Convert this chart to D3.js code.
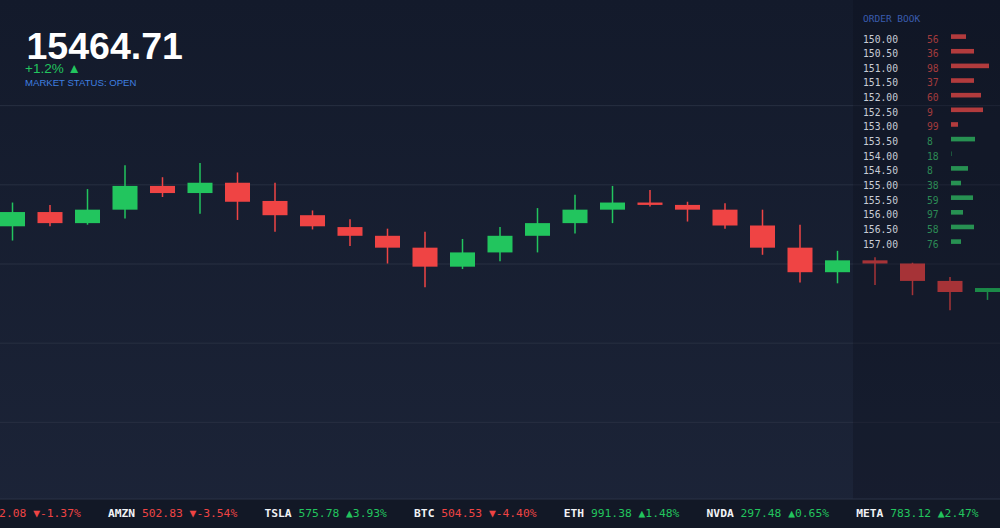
<!DOCTYPE html>
<html>
<head>
<meta charset="utf-8">
<script src="https://d3js.org/d3.v7.min.js"></script>
<style>
    body { margin: 0; background: #141b2c; overflow: hidden; }
</style>
</head>
<body>
<svg id="chart" width="1000" height="528"></svg>
<script>
// candle data
const opens  = [15447, 15465, 15451, 15468, 15498, 15489, 15502, 15479, 15461, 15446, 15435, 15420, 15396, 15414, 15435, 15451, 15468, 15477, 15474, 15468, 15448, 15420, 15389, 15404, 15400, 15378, 15364]
const highs  = [15477, 15474, 15494, 15524, 15509, 15527, 15515, 15502, 15467, 15456, 15444, 15440, 15431, 15446, 15470, 15487, 15498, 15493, 15478, 15476, 15468, 15449, 15416, 15408, 15401, 15383, 15369]
const lows   = [15429, 15447, 15449, 15457, 15484, 15463, 15455, 15440, 15443, 15422, 15400, 15370, 15393, 15403, 15414, 15438, 15451, 15472, 15453, 15444, 15411, 15376, 15375, 15373, 15360, 15341, 15354]
const closes = [15465, 15451, 15468, 15498, 15489, 15502, 15478, 15461, 15447, 15435, 15420, 15396, 15414, 15435, 15451, 15468, 15477, 15474, 15468, 15448, 15420, 15389, 15404, 15400, 15378, 15364, 15369]
const gridTicks = [15200, 15300, 15400, 15500, 15600]

// order book
const bookPrices = [150.00, 150.50, 151.00, 151.50, 152.00, 152.50, 153.00, 153.50, 154.00, 154.50, 155.00, 155.50, 156.00, 156.50, 157.00]
const bookQty = [56, 36, 98, 37, 60, 9, 99, 8, 18, 8, 38, 59, 97, 58, 76]
const bookDepth = [15, 23, 38, 23, 30, 32, 7, 24, 0.5, 17, 10, 22, 12, 23, 10]
const askRows = 7

// ticker strip
const tickerSymbols = ["AAPL", "AMZN", "TSLA", "BTC", "ETH", "NVDA", "META"]
const tickerPrices = ["172.08", "502.83", "575.78", "504.53", "991.38", "297.48", "783.12"]
const tickerChanges = [-1.37, -3.54, 3.93, -4.40, 1.48, 0.65, 2.47]

const green = "#22c55e"
const red = "#ef4444"

let svg = d3.select("#chart")

// background gradient
let defs = svg.append("defs")
let bg = defs.append("linearGradient").attr("id", "bg").attr("x1", 0).attr("y1", 0).attr("x2", 0).attr("y2", 1)
bg.append("stop").attr("offset", "0%").attr("stop-color", "#131a2b")
bg.append("stop").attr("offset", "100%").attr("stop-color", "#1c2438")
svg.append("rect").attr("width", 1000).attr("height", 528).attr("fill", "url(#bg)")

// scales
let yScale = d3.scaleLinear()
    .domain([15100, 15700])
    .range([501, 26])

let xScale = d3.scaleLinear()
    .domain([0, opens.length - 1])
    .range([12.5, 987.5])

let bodyWidth = 25

// gridlines
let grid = svg.append("g")
    .attr("class", "grid")
    .call(d3.axisRight(yScale)
        .tickValues(gridTicks)
        .tickSize(1000)
        .tickFormat("")
    )
grid.select(".domain").remove()
grid.selectAll("line").attr("stroke", "#283042").attr("stroke-width", 1)

// candles
let candles = svg.append("g").attr("class", "candles")
    .selectAll("g")
    .data(opens.map(function (d, i) { return i }))
    .enter()
    .append("g")

candles.append("line")
    .attr("x1", function (i) { return xScale(i) })
    .attr("x2", function (i) { return xScale(i) })
    .attr("y1", function (i) { return yScale(highs[i]) })
    .attr("y2", function (i) { return yScale(lows[i]) })
    .attr("stroke", function (i) { return closes[i] >= opens[i] ? green : red })
    .attr("stroke-width", 1.5)

candles.append("rect")
    .attr("x", function (i) { return xScale(i) - bodyWidth / 2 })
    .attr("width", bodyWidth)
    .attr("y", function (i) { return yScale(Math.max(opens[i], closes[i])) })
    .attr("height", function (i) { return Math.max(2, Math.abs(yScale(opens[i]) - yScale(closes[i]))) })
    .attr("fill", function (i) { return closes[i] >= opens[i] ? green : red })

// order book panel (dims what is behind it)
svg.append("rect")
    .attr("x", 853).attr("y", 0)
    .attr("width", 147).attr("height", 499)
    .attr("fill", "#0c111c")
    .attr("opacity", 0.32)

svg.append("text")
    .attr("x", 863).attr("y", 22)
    .text("ORDER BOOK")
    .style("font-family", "DejaVu Sans Mono, monospace")
    .style("font-size", "9.5px")
    .style("fill", "#3a5cae")

let rowScale = d3.scaleLinear()
    .domain([0, bookPrices.length - 1])
    .range([39, 244])

let depthScale = d3.scaleLinear()
    .domain([0, 40])
    .range([0, 40])

let rows = svg.append("g").attr("class", "book")
    .selectAll("g")
    .data(bookPrices)
    .enter()
    .append("g")
    .attr("transform", function (d, i) { return "translate(0," + rowScale(i) + ")" })

rows.append("text")
    .attr("x", 863).attr("y", 3.5)
    .text(function (d) { return d.toFixed(2) })
    .style("font-family", "DejaVu Sans Mono, monospace")
    .style("font-size", "9.7px")
    .style("fill", "#c9cdd6")

rows.append("text")
    .attr("x", 927).attr("y", 3.5)
    .text(function (d, i) { return bookQty[i] })
    .style("font-family", "DejaVu Sans Mono, monospace")
    .style("font-size", "9.7px")
    .style("fill", function (d, i) { return i < askRows ? "#a33b3d" : "#2c8a55" })

rows.append("rect")
    .attr("x", 951).attr("y", -4.7)
    .attr("width", function (d, i) { return depthScale(bookDepth[i]) })
    .attr("height", 4.6)
    .attr("fill", function (d, i) { return i < askRows ? "#b23b3d" : "#279152" })

// headline price
svg.append("text")
    .attr("x", 26.5).attr("y", 59)
    .text("15464.71")
    .style("font-family", "Liberation Sans, Arial, sans-serif")
    .style("font-weight", "bold")
    .style("font-size", "37.5px")
    .style("fill", "#ffffff")

svg.append("text")
    .attr("x", 25).attr("y", 73)
    .text("+1.2% ▲")
    .style("font-family", "Liberation Sans, Arial, sans-serif")
    .style("font-size", "13.5px")
    .style("fill", green)

svg.append("text")
    .attr("x", 25).attr("y", 85.5)
    .text("MARKET STATUS: OPEN")
    .style("font-family", "Liberation Sans, Arial, sans-serif")
    .style("font-size", "9.6px")
    .style("fill", "#3f7fe0")

// ticker strip
svg.append("rect")
    .attr("x", 0).attr("y", 499)
    .attr("width", 1000).attr("height", 29)
    .attr("fill", "#121826")
svg.append("line")
    .attr("x1", 0).attr("x2", 1000)
    .attr("y1", 499).attr("y2", 499)
    .attr("stroke", "#2a3346").attr("stroke-width", 1)

let ticker = svg.append("text")
    .attr("x", -48.5).attr("y", 517)
    .style("font-family", "DejaVu Sans Mono, monospace")
    .style("font-size", "11.3px")
    .style("white-space", "pre")

tickerSymbols.forEach(function (sym, i) {
    let up = tickerChanges[i] >= 0
    let col = up ? green : red
    let gap = i < tickerSymbols.length - 1 ? "    " : ""
    ticker.append("tspan").text(sym + " ").style("font-weight", "bold").style("fill", "#f1f3f6")
    ticker.append("tspan").text(tickerPrices[i] + " ").style("fill", col)
    ticker.append("tspan")
        .text((up ? "▲" : "▼") + tickerChanges[i].toFixed(2) + "%" + gap)
        .style("fill", col)
})
</script>
</body>
</html>
